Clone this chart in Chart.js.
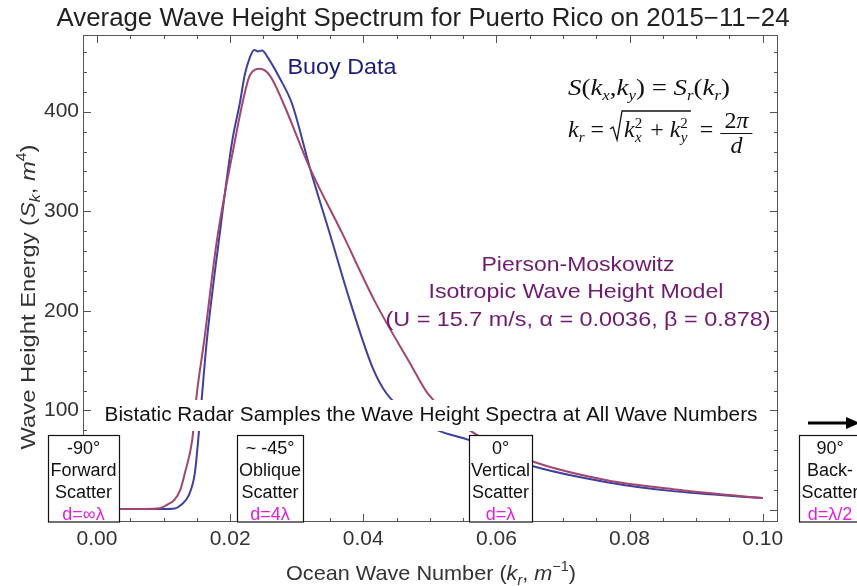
<!DOCTYPE html>
<html>
<head>
<meta charset="utf-8">
<script src="https://cdn.jsdelivr.net/npm/chart.js@4.4.1/dist/chart.umd.min.js"></script>
<style>
  html, body { margin: 0; padding: 0; background: #fff; }
  #wrap { width: 857px; height: 586px; }
</style>
</head>
<body>
<div id="wrap"><canvas id="c" width="857" height="586"></canvas></div>
<script>
// Wave number k_r (1/m) and spectral energy S_k (m^4)
const buoyK = [0, 0.006, 0.0100, 0.0117, 0.0126, 0.0138, 0.0147, 0.0152, 0.0158, 0.0165, 0.0183, 0.0203, 0.0215, 0.0222, 0.0230, 0.0236, 0.0242, 0.0248, 0.0257, 0.0275, 0.0293, 0.0320, 0.0350, 0.0380, 0.0414, 0.0435, 0.0472, 0.0512, 0.0560, 0.0610, 0.0650, 0.0766, 0.0865, 0.1000];
const buoyS = [1, 1, 1, 1.5, 5, 15, 37, 70, 117, 170, 270, 370, 410, 437, 455, 462, 460.5, 461.5, 454, 433, 408, 343, 277, 210, 143, 117, 95, 80, 70, 55, 45, 28, 19, 12];

const modelK = [0, 0.006, 0.0090, 0.0099, 0.0107, 0.0116, 0.0125, 0.0132, 0.0143, 0.0150, 0.0161, 0.0180, 0.0207, 0.0219, 0.0230, 0.0245, 0.0260, 0.0279, 0.0320, 0.0369, 0.0417, 0.0474, 0.0497, 0.0560, 0.0610, 0.0658, 0.0766, 0.0865, 0.1000];
const modelS = [1, 1, 1.5, 3, 6, 10, 20, 37, 70, 117, 170, 270, 370, 410, 437, 443, 436, 410, 343, 277, 210, 143, 117, 80, 62, 48, 30, 21, 12];

const xTicks = [0, 0.02, 0.04, 0.06, 0.08, 0.10];
const yTicks = [100, 200, 300, 400];

// Scattering geometry boxes along the bottom of the plot
const scatterBoxes = [
  { x0: 48,  x1: 119, lines: ['-90°', 'Forward', 'Scatter'], d: 'd=∞λ' },
  { x0: 237, x1: 303, lines: ['~ -45°', 'Oblique', 'Scatter'], d: 'd=4λ' },
  { x0: 469, x1: 532, lines: ['0°', 'Vertical', 'Scatter'], d: 'd=λ' },
  { x0: 799, x1: 861, lines: ['90°', 'Back-', 'Scatter'], d: 'd=λ/2' }
];

const SANS = '"Liberation Sans", Arial, sans-serif';
const SERIF = '"Liberation Serif", "Times New Roman", serif';

const toPts = (ks, ss) => ks.map((k, i) => ({ x: k, y: ss[i] }));

// Draw a run of styled pieces, scaled horizontally to a target width if given
function richText(ctx, pieces, x, baseline, color, align, width) {
  ctx.save();
  let total = 0;
  for (const p of pieces) { ctx.font = p.f; p.w = ctx.measureText(p.t).width; total += p.w; }
  const s = width ? width / total : 1;
  let start = x;
  if (align === 'center') start = x - total * s / 2;
  if (align === 'right') start = x - total * s;
  ctx.translate(start, baseline);
  ctx.scale(s, 1);
  ctx.fillStyle = color;
  ctx.textBaseline = 'alphabetic';
  ctx.textAlign = 'left';
  let cx = 0;
  for (const p of pieces) { ctx.font = p.f; ctx.fillText(p.t, cx, p.dy || 0); cx += p.w; }
  ctx.restore();
  return total * s;
}

function fitText(ctx, text, cx, baseline, font, width, color) {
  return richText(ctx, [{ t: text, f: font }], cx, baseline, color, 'center', width);
}

const decor = {
  id: 'decor',
  afterDraw(chart) {
    const { ctx, chartArea: a, scales: { x, y } } = chart;
    ctx.save();

    // frame with inward ticks on all four sides
    ctx.strokeStyle = '#555';
    ctx.lineWidth = 1;
    ctx.strokeRect(a.left + 0.5, a.top + 0.5, a.right - a.left - 1, a.bottom - a.top - 1);
    ctx.beginPath();
    for (let i = 0; i <= 20; i++) {
      const v = i * 0.005;
      const px = Math.round(x.getPixelForValue(v)) + 0.5;
      const len = i % 4 === 0 ? 8 : 4;
      ctx.moveTo(px, a.bottom); ctx.lineTo(px, a.bottom - len);
      ctx.moveTo(px, a.top); ctx.lineTo(px, a.top + len);
    }
    for (let v = 0; v <= 460; v += 20) {
      const py = Math.round(y.getPixelForValue(v)) + 0.5;
      const len = v % 100 === 0 ? 8 : 4;
      ctx.moveTo(a.left, py); ctx.lineTo(a.left + len, py);
      ctx.moveTo(a.right, py); ctx.lineTo(a.right - len, py);
    }
    ctx.stroke();

    // title
    fitText(ctx, 'Average Wave Height Spectrum for Puerto Rico on 2015\u221211\u221224', 423, 26,
      '25px ' + SANS, 733, '#222');

    // axis titles
    richText(ctx, [
      { t: 'Ocean Wave Number (', f: '21px ' + SANS },
      { t: 'k', f: 'italic 21px ' + SANS },
      { t: 'r', f: 'italic 14px ' + SANS, dy: 5 },
      { t: ', ', f: '21px ' + SANS },
      { t: 'm', f: 'italic 21px ' + SANS },
      { t: '\u22121', f: '14px ' + SANS, dy: -9 },
      { t: ')', f: '21px ' + SANS }
    ], 431, 580, '#333', 'center', 290);

    ctx.save();
    ctx.translate(35, 297);
    ctx.rotate(-Math.PI / 2);
    richText(ctx, [
      { t: 'Wave Height Energy (', f: '21px ' + SANS },
      { t: 'S', f: 'italic 21px ' + SANS },
      { t: 'k', f: 'italic 14px ' + SANS, dy: 5 },
      { t: ', ', f: '21px ' + SANS },
      { t: 'm', f: 'italic 21px ' + SANS },
      { t: '4', f: '14px ' + SANS, dy: -9 },
      { t: ')', f: '21px ' + SANS }
    ], 0, 0, '#333', 'center', 305);
    ctx.restore();

    // series labels
    fitText(ctx, 'Buoy Data', 342, 74, '22px ' + SANS, 109, '#1c1c7c');
    const pm = '#701a70';
    fitText(ctx, 'Pierson-Moskowitz', 578, 271, '21px ' + SANS, 193, pm);
    fitText(ctx, 'Isotropic Wave Height Model', 576, 298, '21px ' + SANS, 295, pm);
    fitText(ctx, '(U = 15.7 m/s, \u03b1 = 0.0036, \u03b2 = 0.878)', 578, 326, '21px ' + SANS, 385, pm);

    // equations
    const I = 'italic 24px ' + SERIF, R = '24px ' + SERIF, Is = 'italic 15px ' + SERIF, Rs = '15px ' + SERIF;
    richText(ctx, [
      { t: 'S', f: I }, { t: '(', f: R }, { t: 'k', f: I }, { t: 'x', f: Is, dy: 5 },
      { t: ',', f: R }, { t: 'k', f: I }, { t: 'y', f: Is, dy: 5 }, { t: ')', f: R },
      { t: ' = ', f: R }, { t: 'S', f: I }, { t: 'r', f: Is, dy: 5 }, { t: '(', f: R },
      { t: 'k', f: I }, { t: 'r', f: Is, dy: 5 }, { t: ')', f: R }
    ], 568, 95, '#111', 'left', 162);

    const b2 = 137;
    let ex = 568;
    ex += richText(ctx, [{ t: 'k', f: I }, { t: 'r', f: Is, dy: 5 }, { t: ' = ', f: R }], ex, b2, '#111', 'left');
    // radical sign
    const rx = ex;
    ctx.strokeStyle = '#111';
    ctx.lineWidth = 1.3;
    ctx.beginPath();
    ctx.moveTo(rx, b2 - 8); ctx.lineTo(rx + 3, b2 - 10);
    ctx.lineTo(rx + 7, b2 + 3); ctx.lineTo(rx + 12, b2 - 26);
    ex = rx + 14;
    const stack = (base, xx) => {
      ctx.fillStyle = '#111';
      ctx.font = I; ctx.fillText(base, xx, b2);
      const w1 = ctx.measureText(base).width;
      ctx.font = Rs; ctx.fillText('2', xx + w1, b2 - 9);
      return w1 + ctx.measureText('2').width;
    };
    ctx.save(); ctx.textAlign = 'left'; ctx.textBaseline = 'alphabetic';
    let w = stack('k', ex);
    richText(ctx, [{ t: 'x', f: Is }], ex + 11, b2 + 5, '#111', 'left');
    ex += w + 2;
    ex += richText(ctx, [{ t: ' + ', f: R }], ex, b2, '#111', 'left');
    w = stack('k', ex);
    richText(ctx, [{ t: 'y', f: Is }], ex + 11, b2 + 5, '#111', 'left');
    ex += w + 3;
    ctx.restore();
    ctx.lineTo(ex, b2 - 26);
    ctx.stroke();
    ex += 3;
    ex += richText(ctx, [{ t: ' = ', f: R }], ex, b2, '#111', 'left');
    const fx0 = ex + 1, fx1 = ex + 33;
    ctx.beginPath();
    ctx.lineWidth = 1.2;
    ctx.moveTo(fx0, 133.5); ctx.lineTo(fx1, 133.5);
    ctx.stroke();
    richText(ctx, [{ t: '2', f: R }, { t: '\u03c0', f: I }], (fx0 + fx1) / 2, 128, '#111', 'center');
    richText(ctx, [{ t: 'd', f: I }], (fx0 + fx1) / 2, 153, '#111', 'center');

    // banner over the curves
    ctx.fillStyle = '#fff';
    ctx.fillRect(100, 400, 662, 31);
    fitText(ctx, 'Bistatic Radar Samples the Wave Height Spectra at All Wave Numbers', 431, 421,
      '20px ' + SANS, 653, '#111');

    // arrow pointing toward back-scatter
    ctx.strokeStyle = '#000';
    ctx.lineWidth = 3;
    ctx.beginPath();
    ctx.moveTo(808, 423); ctx.lineTo(848, 423);
    ctx.stroke();
    ctx.fillStyle = '#000';
    ctx.beginPath();
    ctx.moveTo(846, 417); ctx.lineTo(860, 423); ctx.lineTo(846, 429); ctx.closePath();
    ctx.fill();

    // scattering geometry boxes
    for (const bx of scatterBoxes) {
      ctx.fillStyle = '#fff';
      ctx.fillRect(bx.x0, 435, bx.x1 - bx.x0, 87);
      ctx.strokeStyle = '#111';
      ctx.lineWidth = 1.2;
      ctx.strokeRect(bx.x0 + 0.5, 435.5, bx.x1 - bx.x0, 86.5);
      const cx = (bx.x0 + bx.x1) / 2;
      ctx.font = '18px ' + SANS;
      ctx.textAlign = 'center';
      ctx.textBaseline = 'alphabetic';
      ctx.fillStyle = '#111';
      bx.lines.forEach((t, i) => ctx.fillText(t, cx, 454 + i * 22));
      ctx.fillStyle = '#e21ee2';
      ctx.fillText(bx.d, cx, 520);
    }
    ctx.restore();
  }
};

new Chart(document.getElementById('c'), {
  type: 'line',
  data: {
    datasets: [
      { label: 'Pierson-Moskowitz', data: toPts(modelK, modelS), borderColor: '#a3466f', borderWidth: 2,
        pointRadius: 0, cubicInterpolationMode: 'monotone', fill: false },
      { label: 'Buoy Data', data: toPts(buoyK, buoyS), borderColor: '#3f3f9f', borderWidth: 2,
        pointRadius: 0, cubicInterpolationMode: 'monotone', fill: false }
    ]
  },
  options: {
    responsive: false,
    animation: false,
    events: [],
    layout: { padding: { top: 35, right: 79, left: 0, bottom: 0 } },
    plugins: { legend: { display: false }, tooltip: { enabled: false }, title: { display: false } },
    scales: {
      x: {
        type: 'linear', min: -0.0021, max: 0.1023,
        afterBuildTicks: s => { s.ticks = xTicks.map(v => ({ value: v })); },
        afterFit: s => { s.height = 64; },
        grid: { display: false, drawTicks: false },
        border: { display: false },
        ticks: { callback: v => Number(v).toFixed(2), font: { family: SANS, size: 21 }, color: '#333',
                 padding: 5, maxRotation: 0, autoSkip: false }
      },
      y: {
        type: 'linear', min: -12, max: 477,
        afterBuildTicks: s => { s.ticks = yTicks.map(v => ({ value: v })); },
        afterFit: s => { s.width = 83; },
        grid: { display: false, drawTicks: false },
        border: { display: false },
        ticks: { callback: v => String(v), font: { family: SANS, size: 21 }, color: '#333', padding: 4 }
      }
    }
  },
  plugins: [decor]
});
</script>
</body>
</html>
